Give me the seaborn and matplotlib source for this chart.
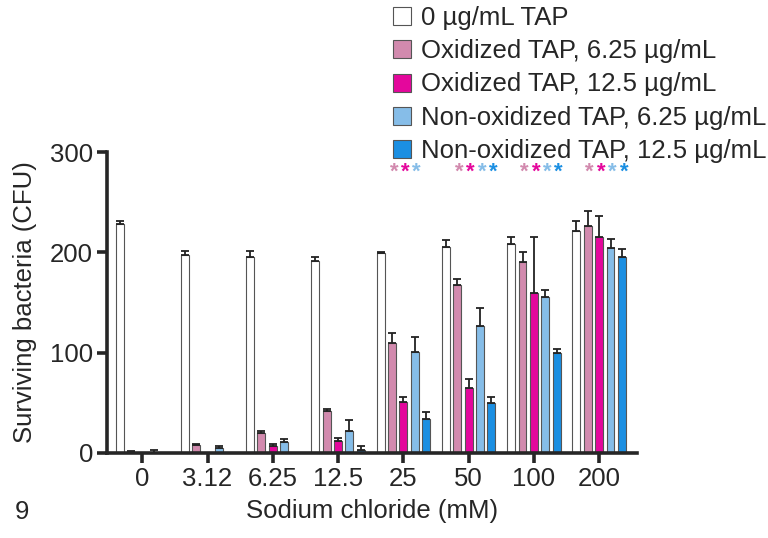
import pandas as pd
import seaborn as sns
import matplotlib.pyplot as plt

nacl = ["0", "3.12", "6.25", "12.5", "25", "50", "100", "200"]
series = ["0 µg/mL TAP", "Oxidized TAP, 6.25 µg/mL", "Oxidized TAP, 12.5 µg/mL",
          "Non-oxidized TAP, 6.25 µg/mL", "Non-oxidized TAP, 12.5 µg/mL"]
colors = ["#ffffff", "#d28aae", "#e4079c", "#86bde8", "#1b8fe2"]

control = [228, 197, 195, 191, 199, 205, 208, 221]
control_err = [3, 4, 6, 4, 1, 7, 7, 10]
ox_625 = [1, 8, 20, 42, 110, 167, 190, 226]
ox_625_err = [0.5, 1, 2, 2, 10, 6, 10, 15]
ox_125 = [0, 0, 7, 12, 51, 65, 159, 215]
ox_125_err = [0, 0, 2, 3, 5, 9, 56, 21]
nox_625 = [0, 5, 11, 22, 101, 127, 155, 204]
nox_625_err = [2.5, 2, 3, 11, 15, 18, 7, 9]
nox_125 = [0, 0, 0, 3, 34, 50, 100, 195]
nox_125_err = [0, 0, 0, 4, 7, 6, 4, 8]

# significance stars per group (1 = star above that bar)
stars_ox_625 = [0, 0, 0, 0, 1, 1, 1, 1]
stars_ox_125 = [0, 0, 0, 0, 1, 1, 1, 1]
stars_nox_625 = [0, 0, 0, 0, 1, 1, 1, 1]
stars_nox_125 = [0, 0, 0, 0, 0, 1, 1, 1]

means = [control, ox_625, ox_125, nox_625, nox_125]
errs = [control_err, ox_625_err, ox_125_err, nox_625_err, nox_125_err]
stars = [None, stars_ox_625, stars_ox_125, stars_nox_625, stars_nox_125]

df = pd.DataFrame({
    "NaCl": nacl * len(series),
    "group": [s for s in series for _ in nacl],
    "CFU": [v for m in means for v in m],
})

sns.set_style("ticks")
plt.rcParams["font.family"] = ["Liberation Sans", "DejaVu Sans"]
fs = 18.5

fig = plt.figure(figsize=(7.68, 5.38), dpi=100)
ax = fig.add_axes([107 / 768, 1 - 453 / 538, 530 / 768, 301 / 538])

sns.barplot(data=df, x="NaCl", y="CFU", hue="group", order=nacl, hue_order=series,
            palette=dict(zip(series, colors)), saturation=1, errorbar=None,
            width=0.87, gap=0.3, edgecolor="#555555", linewidth=0.8, ax=ax)

for cont, err, star, col in zip(ax.containers, errs, stars, colors):
    xs = [p.get_x() + p.get_width() / 2 for p in cont.patches]
    ys = [p.get_height() for p in cont.patches]
    ax.errorbar(xs, ys, yerr=[[0] * len(err), err], fmt="none", ecolor="#222222",
                elinewidth=1.3, capsize=3, capthick=1.3, zorder=1)
    if star is not None:
        for x, s in zip(xs, star):
            if s:
                ax.text(x + 0.03, 280, "*", color=col, ha="center", va="center",
                        fontsize=16, fontweight="bold")

ax.set_xlim(-0.54, 7.58)
ax.set_ylim(0, 300)
ax.set_yticks([0, 100, 200, 300])
sns.despine(ax=ax)
for side in ["left", "bottom"]:
    ax.spines[side].set_linewidth(2.6)
ax.tick_params(axis="both", length=7, width=2.6, labelsize=fs, pad=3)
ax.set_xlabel("Sodium chloride (mM)", fontsize=fs, labelpad=6)
ax.set_ylabel("Surviving bacteria (CFU)", fontsize=fs, labelpad=9)

ax.legend(loc="upper left", bbox_to_anchor=(393 / 768, 1 - 6 / 538),
          bbox_transform=fig.transFigure, frameon=False, fontsize=fs,
          handlelength=0.7, handleheight=0.7, handletextpad=0.4,
          labelspacing=0.36, borderpad=0, borderaxespad=0)

fig.text(22 / 768, 1 - 512 / 538, "9", fontsize=fs, ha="center", va="center")

fig.savefig("out.png", dpi=100)
